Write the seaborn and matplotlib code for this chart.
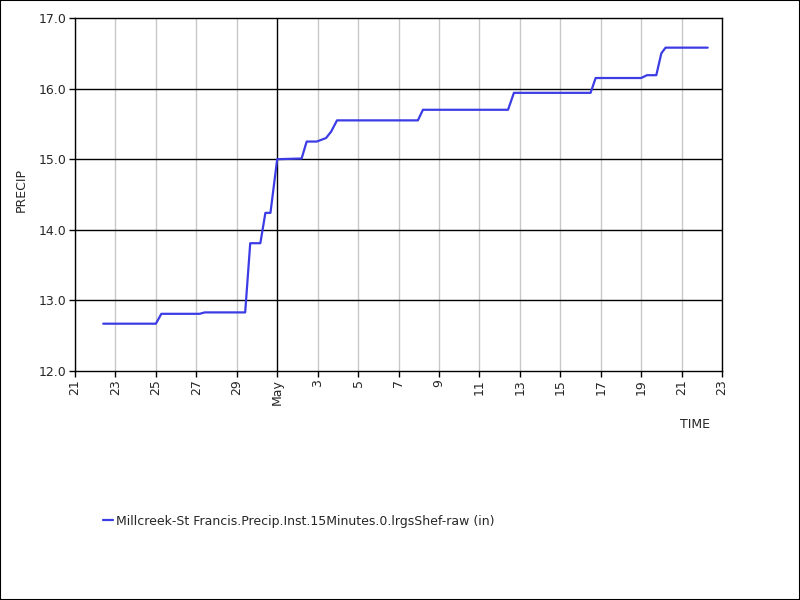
import matplotlib
matplotlib.use("Agg")
import matplotlib.pyplot as plt
import matplotlib.dates as mdates
from matplotlib.patches import Rectangle
import seaborn as sns
import pandas as pd

times = [
    "2024-04-22 09:30", "2024-04-25 00:00", "2024-04-25 06:30", "2024-04-27 04:00",
    "2024-04-27 10:00", "2024-04-29 10:00", "2024-04-29 16:00", "2024-04-30 04:00",
    "2024-04-30 10:00", "2024-04-30 16:00", "2024-05-01 00:00", "2024-05-02 05:00",
    "2024-05-02 11:00", "2024-05-02 23:00", "2024-05-03 10:00", "2024-05-03 16:00",
    "2024-05-03 23:00", "2024-05-07 23:00", "2024-05-08 05:00", "2024-05-12 10:00",
    "2024-05-12 17:00", "2024-05-16 12:00", "2024-05-16 18:00", "2024-05-19 00:00",
    "2024-05-19 07:00", "2024-05-19 18:00", "2024-05-20 00:00", "2024-05-20 05:00",
    "2024-05-22 07:00",
]
precip = [
    12.67, 12.67, 12.81, 12.81,
    12.83, 12.83, 13.81, 13.81,
    14.24, 14.24, 15.00, 15.01,
    15.25, 15.25, 15.30, 15.39,
    15.55, 15.55, 15.70, 15.70,
    15.94, 15.94, 16.15, 16.15,
    16.19, 16.19, 16.50, 16.58,
    16.58,
]
series_name = "Millcreek-St Francis.Precip.Inst.15Minutes.0.lrgsShef-raw (in)"
y_ticks = [12.0, 13.0, 14.0, 15.0, 16.0, 17.0]

df = pd.DataFrame({"TIME": pd.to_datetime(times), "PRECIP": precip})

sns.set_style("white")
plt.rcParams["font.family"] = ["DejaVu Sans"]

fig = plt.figure(figsize=(8, 6), dpi=100)
ax = fig.add_axes([75 / 800, 1 - 371 / 600, (722 - 75) / 800, (371 - 18) / 600])

sns.lineplot(data=df, x="TIME", y="PRECIP", ax=ax, color="#3c3ce6",
             linewidth=1.6, label=series_name, legend=False)

ax.set_xlim(pd.Timestamp("2024-04-21"), pd.Timestamp("2024-05-23"))
ax.set_ylim(12.0, 17.0)
ax.set_yticks(y_ticks)
ax.set_yticklabels([f"{v:.1f}" for v in y_ticks], fontsize=9)

ax.xaxis.set_major_locator(mdates.DayLocator(bymonthday=range(1, 32, 2)))
def fmt(x, pos):
    d = mdates.num2date(x)
    return d.strftime("%b") if d.day == 1 else str(d.day)
ax.xaxis.set_major_formatter(plt.FuncFormatter(fmt))
for lab in ax.get_xticklabels():
    lab.set_rotation(90)
    lab.set_fontsize(9)
    lab.set_va("top")
    lab.set_ha("center")

ax.tick_params(axis="both", direction="out", length=4, width=1, color="black",
               labelsize=9, pad=2, bottom=True, left=True)

# grid lines
for tick in ax.get_xticks():
    d = mdates.num2date(tick)
    if d.day == 1:
        ax.axvline(tick, color="black", lw=1.0, zorder=1)
    else:
        ax.axvline(tick, color="#c8c8c8", lw=1.0, zorder=1)
for v in y_ticks[1:-1]:
    ax.axhline(v, color="black", lw=1.0, zorder=1)

for s in ax.spines.values():
    s.set_visible(True)
    s.set_color("black")
    s.set_linewidth(1.0)

ax.set_xlabel("")
ax.set_ylabel("")
fig.text(21 / 800, 1 - 190 / 600, "PRECIP", rotation=90, ha="center", va="center", fontsize=9)
fig.text(695 / 800, 1 - 424 / 600, "TIME", ha="center", va="center", fontsize=9)

handles, labels = ax.get_legend_handles_labels()
fig.legend(handles, labels, loc="center left", bbox_to_anchor=(103 / 800, 1 - 521 / 600),
           frameon=False, fontsize=9, handlelength=0.8, handletextpad=0.2,
           borderaxespad=0, borderpad=0)

fig.add_artist(Rectangle((0, 0), 1, 1, transform=fig.transFigure, fill=False,
                         edgecolor="black", lw=1.5))

fig.savefig("out.png", dpi=100)
